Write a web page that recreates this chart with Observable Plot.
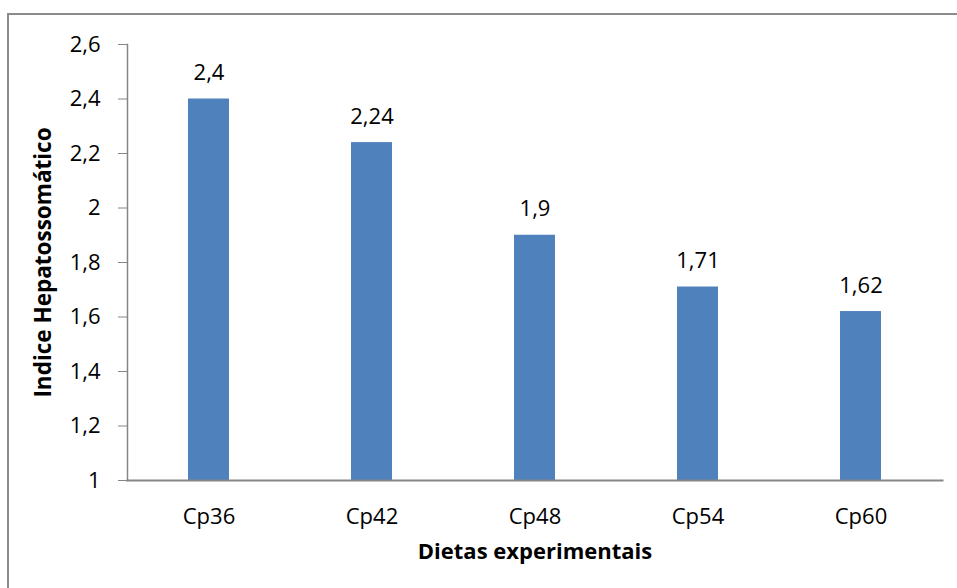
<!DOCTYPE html>
<html>
<head>
<meta charset="utf-8">
<script src="https://cdn.jsdelivr.net/npm/d3@7"></script>
<script src="https://cdn.jsdelivr.net/npm/@observablehq/plot@0.6"></script>
<style>
  html, body { margin: 0; padding: 0; background: #fff; overflow: hidden; }
  #wrap { position: relative; width: 957px; height: 588px; overflow: hidden; }
  #border { position: absolute; left: 7px; top: 13px; width: 1000px; height: 700px;
            border-left: 2px solid #8c8c8c; border-top: 2px solid #8c8c8c; box-sizing: border-box; }
  #chart { position: absolute; left: 0; top: 0; }
</style>
</head>
<body>
<div id="wrap"><div id="border"></div><div id="chart"></div></div>
<script>
const categories = ["Cp36", "Cp42", "Cp48", "Cp54", "Cp60"];
const values = [2.4, 2.24, 1.9, 1.71, 1.62];
const yTicks = [1, 1.2, 1.4, 1.6, 1.8, 2, 2.2, 2.4, 2.6];

const data = categories.map((c, i) => ({ cat: c, v: values[i] }));
const fmt = d => String(d).replace(".", ",");
const font = "'Open Sans', sans-serif";

const chart = Plot.plot({
  width: 957,
  height: 588,
  marginLeft: 127,
  marginRight: 15,
  marginTop: 44,
  marginBottom: 108,
  style: { fontFamily: font, fontSize: "22px", color: "#000", background: "transparent" },
  x: { domain: categories, paddingInner: 0.75, paddingOuter: 0.375, align: 0.5 },
  y: { domain: [1, 2.6] },
  marks: [
    Plot.barY(data, { x: "cat", y1: 1, y2: "v", fill: "#4F81BD" }),
    Plot.text(data, { x: "cat", y: "v", text: d => fmt(d.v), dy: -26, fontSize: 22, fill: "#000" }),
    Plot.axisY({ ticks: yTicks, tickFormat: fmt, tickSize: 9, tickPadding: 18, stroke: "#868686",
                 fontSize: 22, label: "Indice Hepatossomático", labelAnchor: "center", labelArrow: "none",
                 labelOffset: 92 }),
    Plot.axisX({ tickSize: 0, tickPadding: 28, fontSize: 22, label: "Dietas experimentais",
                 labelAnchor: "center", labelArrow: "none", labelOffset: 78 }),
    Plot.frame({ anchor: "left", stroke: "#868686", strokeWidth: 1.5 }),
    Plot.frame({ anchor: "bottom", stroke: "#868686", strokeWidth: 2 })
  ]
});

// make axis titles bold
chart.querySelectorAll("g[aria-label='y-axis label'] text").forEach(t => {
  t.setAttribute("font-weight", "bold");
  t.setAttribute("font-size", "22.5");
});
chart.querySelectorAll("g[aria-label='x-axis label'] text").forEach(t => {
  t.setAttribute("font-weight", "bold");
  t.setAttribute("font-size", "22");
});
document.getElementById("chart").appendChild(chart);
</script>
</body>
</html>
